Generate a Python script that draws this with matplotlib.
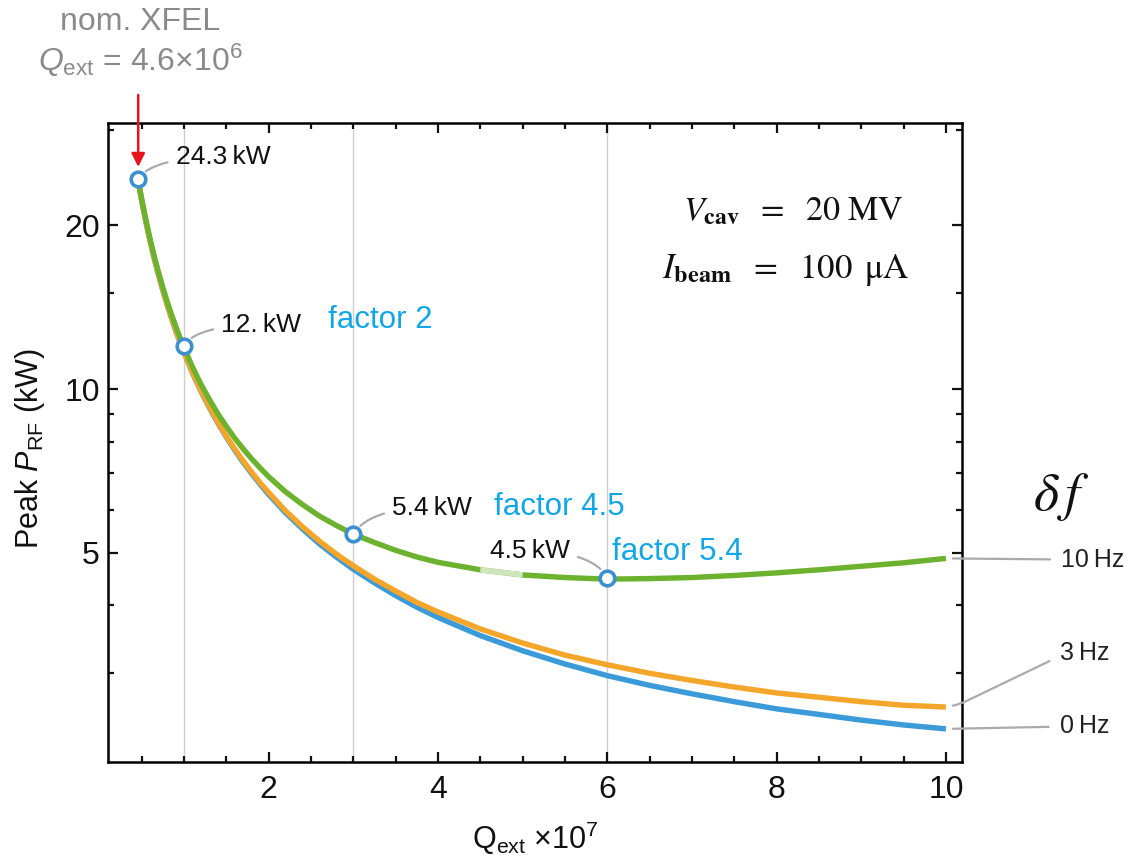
import matplotlib
matplotlib.use('Agg')
import matplotlib.pyplot as plt
from matplotlib.ticker import FixedLocator, NullFormatter, MultipleLocator, FixedFormatter

plt.rcParams['font.family'] = ['Liberation Sans', 'DejaVu Sans']
plt.rcParams['mathtext.fontset'] = 'custom'
plt.rcParams['mathtext.rm'] = 'Liberation Sans'
plt.rcParams['mathtext.it'] = 'Liberation Sans:italic'
plt.rcParams['mathtext.bf'] = 'Liberation Sans:bold'

# Q_ext (x 1e7) and peak RF power (kW)
qext = [0.46, 0.5, 0.55, 0.6, 0.65, 0.7, 0.75, 0.8, 0.85, 0.9, 0.95, 1.0, 1.1, 1.2, 1.3,
        1.4, 1.5, 1.6, 1.7, 1.8, 1.9, 2.0, 2.2, 2.4, 2.6, 2.8, 3.0, 3.25, 3.5, 3.75,
        4.0, 4.5, 5.0, 5.5, 6.0, 6.5, 7.0, 7.5, 8.0, 8.5, 9.0, 9.5, 10.0]
p_0hz = [24.10, 22.26, 20.34, 18.73, 17.37, 16.21, 15.20, 14.32, 13.54, 12.85, 12.23,
         11.68, 10.71, 9.91, 9.24, 8.66, 8.16, 7.72, 7.33, 6.99, 6.68, 6.40, 5.92, 5.53,
         5.19, 4.91, 4.66, 4.40, 4.17, 3.97, 3.80, 3.52, 3.30, 3.12, 2.97, 2.85, 2.75,
         2.66, 2.58, 2.52, 2.46, 2.41, 2.37]
p_3hz = [24.11, 22.27, 20.35, 18.74, 17.38, 16.23, 15.22, 14.34, 13.56, 12.87, 12.25,
         11.70, 10.73, 9.94, 9.27, 8.69, 8.19, 7.76, 7.37, 7.03, 6.72, 6.45, 5.97, 5.58,
         5.25, 4.97, 4.73, 4.47, 4.25, 4.05, 3.89, 3.62, 3.41, 3.24, 3.11, 3.00, 2.91,
         2.83, 2.76, 2.71, 2.66, 2.62, 2.60]
p_10hz = [24.22, 22.39, 20.48, 18.88, 17.53, 16.39, 15.39, 14.52, 13.75, 13.08, 12.47,
          11.93, 10.99, 10.21, 9.57, 9.01, 8.54, 8.12, 7.76, 7.44, 7.16, 6.90, 6.47, 6.13,
          5.84, 5.61, 5.41, 5.22, 5.05, 4.91, 4.80, 4.65, 4.55, 4.50, 4.47, 4.48, 4.50,
          4.54, 4.59, 4.65, 4.72, 4.79, 4.88]

marked_q = [0.46, 1.0, 3.0, 6.0]
marked_p = [24.3, 12.0, 5.4, 4.5]
marked_lbl = ['24.3\u2009kW', '12.\u2009kW', '5.4\u2009kW', '4.5\u2009kW']
factor_lbl = ['factor 2', 'factor 4.5', 'factor 5.4']
series_lbl = ['0\u2009Hz', '3\u2009Hz', '10\u2009Hz']

c_blue = '#3b9ad8'
c_orange = '#f4a62a'
c_green = '#6cb22f'
c_text_blue = '#12a6e6'
c_conn = '#aaaaaa'

W, H = 1148, 863
fig = plt.figure(figsize=(W/100, H/100), dpi=100)
ax = fig.add_axes([108/W, 1-762/H, 854/W, 639/H])

def ptext(x, y, s, **kw):
    # place text by pixel position (from top-left)
    return fig.text(x/W, 1-y/H, s, **kw)

ax.set_yscale('log')
ax.set_xlim(0.103, 10.19)
ax.set_ylim(2.06, 30.86)

for xg in [1, 3, 6]:
    ax.axvline(xg, color='#cfcfcf', lw=1.0, zorder=1)

lw = 3.9
ax.plot(qext, p_0hz, color=c_blue, lw=lw, solid_capstyle='butt', zorder=3)
ax.plot(qext, p_3hz, color=c_orange, lw=lw, solid_capstyle='butt', zorder=4)
ax.plot(qext, p_10hz, color=c_green, lw=lw, solid_capstyle='butt', zorder=5)
# faded bit of the green curve
i0 = qext.index(4.5)
ax.plot(qext[i0:i0+2], p_10hz[i0:i0+2], color='#cfe6bd', lw=lw, solid_capstyle='butt', zorder=5)

ax.plot(marked_q, marked_p, 'o', ms=10.5, mfc='white', mec='#3d8fd0', mew=2.6,
        zorder=7, clip_on=False)

# value labels with small curved leader lines
offs = [(27, 16), (27, 15), (28, 19), (-27, 19)]
for q, p, lbl, off in zip(marked_q, marked_p, marked_lbl, offs):
    ha = 'left' if off[0] > 0 else 'right'
    angb = 60 if off[0] > 0 else 120
    ax.annotate(lbl, xy=(q, p), xytext=off, textcoords='offset points',
                ha=ha, va='center', fontsize=19, color='#111111',
                arrowprops=dict(arrowstyle='-', color=c_conn, lw=1.6,
                                shrinkA=4, shrinkB=8,
                                connectionstyle='angle3,angleA=0,angleB=%d' % angb),
                zorder=8)

fpos = [(0.2576, 0.6917), (0.4520, 0.3990), (0.5902, 0.3286)]
for lbl, (fx, fy) in zip(factor_lbl, fpos):
    ax.text(fx, fy, lbl, transform=ax.transAxes, ha='left', va='center',
            fontsize=22.5, color=c_text_blue)

# series labels on the right
ends = [p_0hz[-1], p_3hz[-1], p_10hz[-1]]
roffs = [(82, 2), (82, 39), (83, -1)]
rconn = ['arc3,rad=0', 'arc,angleA=180,armA=18,angleB=0,armB=8,rad=14', 'arc3,rad=0']
for lbl, pe, off, cs in zip(series_lbl, ends, roffs, rconn):
    ax.annotate(lbl, xy=(qext[-1], pe), xytext=off, textcoords='offset points',
                ha='left', va='center', fontsize=18, color='#222222',
                annotation_clip=False,
                arrowprops=dict(arrowstyle='-', color=c_conn, lw=1.6,
                                shrinkA=6, shrinkB=5, connectionstyle=cs))

ptext(1061, 497, r'$\delta\,f$', math_fontfamily='stix', fontsize=39,
      ha='center', va='center', color='#111111')

# parameter box
ptext(793, 212, r'$V_{\mathbf{cav}}\ \ =\ \ 20\ \mathrm{MV}$', math_fontfamily='stix',
      ha='center', va='center', fontsize=24.5, color='#111111')
ptext(786, 270, r'$I_{\mathbf{beam}}\ \ =\ \ 100\ \,\mathrm{\mu A}$', math_fontfamily='stix',
      ha='center', va='center', fontsize=25, color='#111111')

# nominal XFEL marker
ptext(140, 22, 'nom. XFEL', ha='center', va='center', fontsize=23, color='#8a8a8a')
ptext(140, 60, r'$Q_{\mathrm{ext}}$ = 4.6×10$^{6}$', ha='center', va='center',
      fontsize=23, color='#8a8a8a')
ax.annotate('', xy=(marked_q[0], marked_p[0]), xytext=(marked_q[0], 1-95/H),
            textcoords=('data', 'figure fraction'), xycoords='data',
            annotation_clip=False,
            arrowprops=dict(arrowstyle='-|>,head_length=0.8,head_width=0.4',
                            color='#e8141b', lw=1.8, shrinkA=0, shrinkB=9))

ax.xaxis.set_major_locator(FixedLocator([2, 4, 6, 8, 10]))
ax.xaxis.set_minor_locator(MultipleLocator(0.5))
ax.yaxis.set_major_locator(FixedLocator([5, 10, 20]))
ax.yaxis.set_major_formatter(FixedFormatter(['5', '10', '20']))
ax.yaxis.set_minor_locator(FixedLocator([3, 4, 6, 7, 8, 9, 15, 30]))
ax.yaxis.set_minor_formatter(NullFormatter())

ax.tick_params(which='both', direction='in', top=True, right=True, width=1.6,
               labelsize=23, colors='#111111')
ax.tick_params(which='major', length=7)
ax.tick_params(which='minor', length=4.5)
ax.tick_params(axis='x', pad=9)
ax.tick_params(axis='y', pad=6)
for s in ax.spines.values():
    s.set_linewidth(1.8)

ax.set_xlabel(r'Q$_{\mathrm{ext}}$ ×10$^{7}$', fontsize=22, color='#111111')
ax.xaxis.set_label_coords(0.5, -0.0908)
ax.set_ylabel(r'Peak $P_{\mathrm{RF}}$ (kW)', fontsize=22, color='#111111')
ax.yaxis.set_label_coords(-0.0714, 0.49)

fig.savefig('out.png', dpi=100)
